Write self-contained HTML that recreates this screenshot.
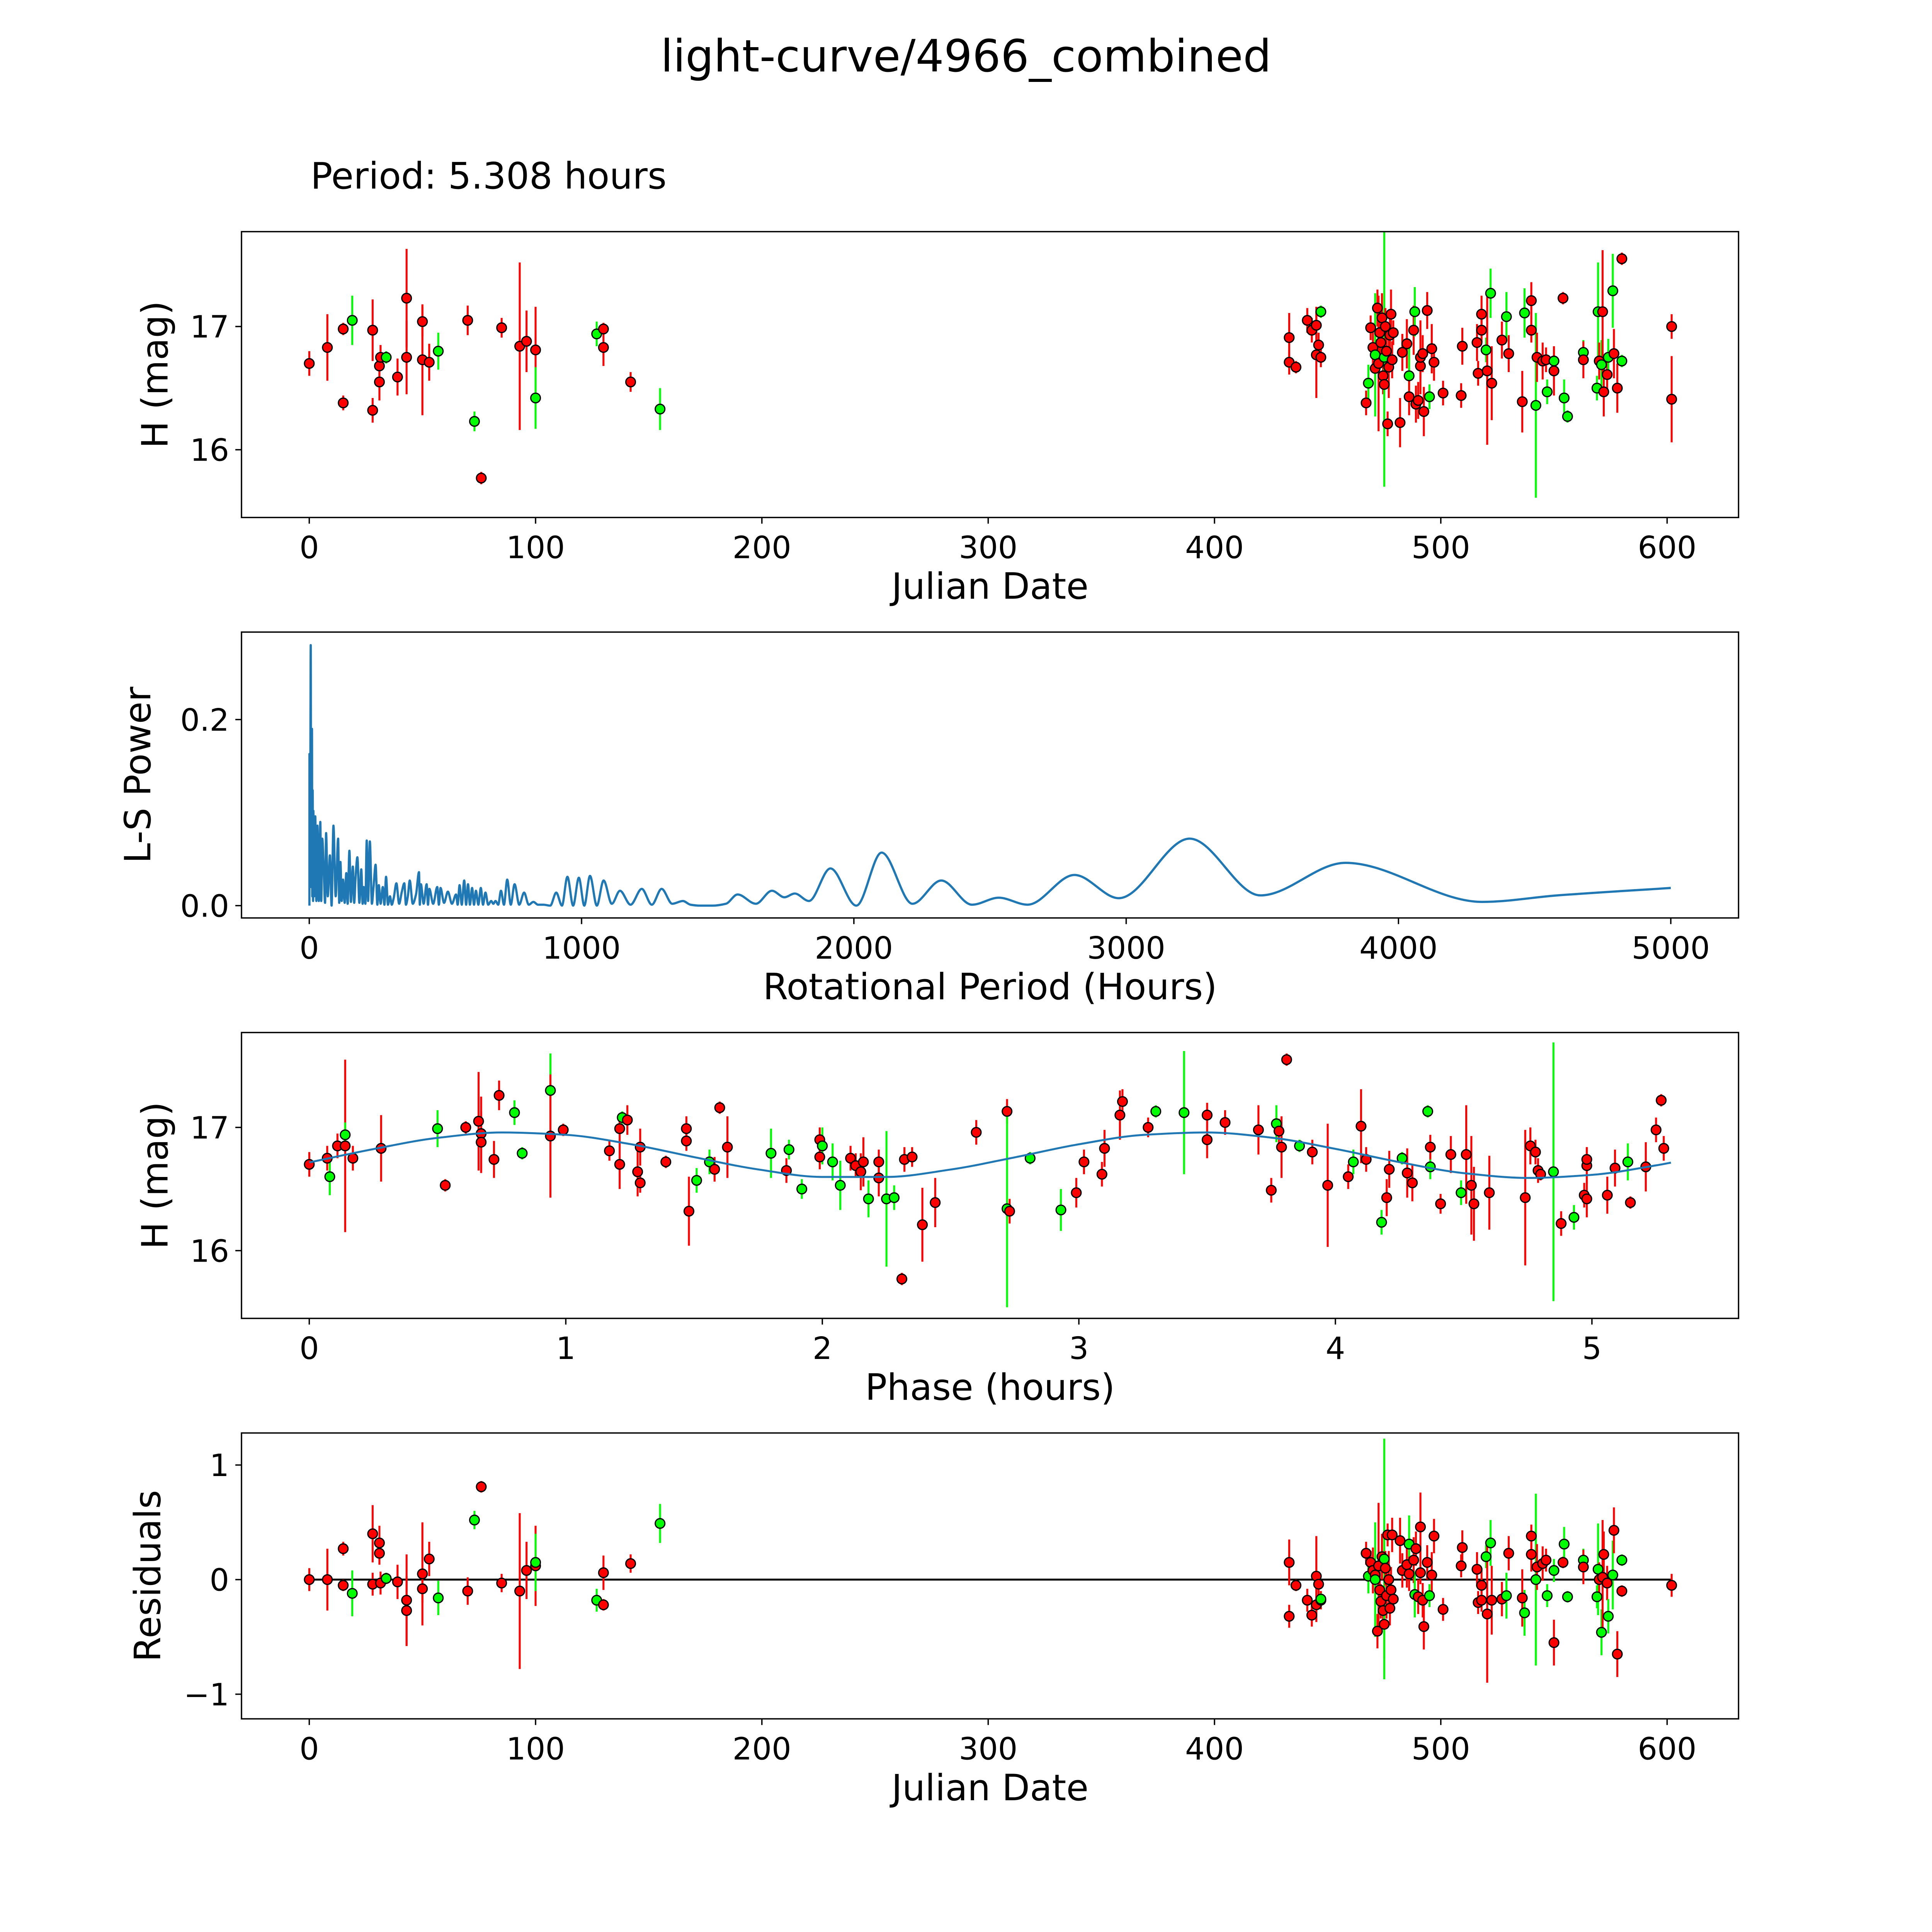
<!DOCTYPE html>
<html><head><meta charset="utf-8"><title>light-curve/4966_combined</title>
<style>
html,body{margin:0;padding:0;background:#fff;width:100%;height:100%;overflow:hidden;}
svg{display:block;width:100vw;height:100vh;font-family:"DejaVu Sans","Liberation Sans",sans-serif;}
</style></head>
<body>
<svg id="fig" xmlns="http://www.w3.org/2000/svg" viewBox="0 0 1568 1568" preserveAspectRatio="none">
<rect x="0" y="0" width="1568" height="1568" fill="#fff"/>
<text x="784" y="58" font-size="36.2" text-anchor="middle">light-curve/4966_combined</text>
<text x="252" y="153" font-size="29.6">Period: 5.308 hours</text>
<g id="layer"></g>
</svg>
<script>
// ---- Panel 1: light curve (Julian date vs H mag) ----
const lcDate=[0,8,15,15,19,28,28,31,31,31.5,34,39,43,43,50,50,53,57,70,73,76,85,93,96,100,100,127,130,130,142,155,
433,433,436,441,443,445,445,446,447,447,467,468,469,470,471,471,472,472.5,473,473.5,474,474.5,475,475,475.5,476,476.5,477,477.5,478,478.5,479,482,483,485,486,486,488,488.5,489,490,491,491,492,492.5,494,495,496,497,
501,509,509.5,516,516.5,518,518,520,520.5,522,522.5,527,529,530,536,537,540,540,542,542.5,545,546.5,547,550,550,554,554.5,556,563,563,569,569.5,570,571,571.5,572,573.5,574,576,576.5,578,580,580,602,602];
const lcMag=[16.70,16.83,16.38,16.98,17.05,16.97,16.32,16.55,16.68,16.75,16.75,16.59,17.23,16.75,17.04,16.73,16.71,16.80,17.05,16.23,15.77,16.99,16.84,16.88,16.81,16.42,16.94,16.98,16.83,16.55,16.33,
16.91,16.71,16.67,17.05,16.97,16.77,17.01,16.85,16.75,17.12,16.38,16.54,16.99,16.83,16.66,16.77,17.15,16.70,16.95,16.87,17.07,16.60,16.53,16.75,17.00,16.80,16.21,16.67,16.93,17.10,16.73,16.95,16.22,16.79,16.86,16.60,16.43,16.97,17.12,16.37,16.40,16.68,16.75,16.78,16.31,17.13,16.43,16.82,16.71,
16.46,16.44,16.84,16.87,16.62,17.10,16.97,16.81,16.64,17.27,16.54,16.89,17.08,16.78,16.39,17.11,17.21,16.97,16.36,16.75,16.72,16.73,16.47,16.72,16.64,17.23,16.42,16.27,16.79,16.73,16.50,17.12,16.72,16.69,17.12,16.47,16.61,16.75,17.29,16.78,16.50,17.55,16.72,17.00,16.41];
const lcErr=[.1,.27,.06,.05,.2,.25,.1,.15,.1,.1,.05,.15,.4,.3,.12,.45,.15,.15,.12,.08,.05,.08,.68,.25,.35,.25,.1,.05,.15,.08,.17,
.2,.1,.05,.1,.1,.35,.15,.1,.08,.05,.1,.15,.1,.2,.15,.5,.15,.55,.2,.15,.2,.15,.3,1.05,.15,.2,.1,.25,.15,.2,.15,.1,.2,.15,.2,.25,.15,.2,.2,.15,.15,.1,.3,.15,.2,.15,.1,.2,.15,
.1,.1,.15,.15,.1,.15,.1,.1,.6,.2,.3,.15,.2,.15,.25,.2,.15,.1,.75,.2,.15,.1,.1,.1,.2,.05,.15,.05,.1,.15,.1,.4,.15,.2,.5,.2,.15,.15,.3,.2,.2,.05,.05,.1,.35];
const lcColor=["r","r","r","r","g","r","r","r","r","r","g","r","r","r","r","r","r","g","r","g","r","r","r","r","r","g","g","r","r","r","g",
"r","r","r","r","r","r","r","r","r","g","r","g","r","r","r","g","r","r","r","r","r","r","r","g","r","r","r","r","r","r","r","r","r","r","r","g","r","r","g","r","r","r","r","r","r","r","g","r","r",
"r","r","r","r","r","r","r","g","r","g","r","r","g","r","r","g","r","r","g","r","r","r","g","g","r","r","g","g","g","r","g","g","r","g","r","r","r","g","g","r","r","r","g","r","r"];

// ---- Panel 2: Lomb-Scargle periodogram ----
const lsPeriod=[0.5,0.7,3,5.4,7,10,11,12.5,14,15,18,22,26,30,35,40.6,44,47.7,53,58,61.8,68,75.8,82,88.8,97,106,110,114.5,119,124,130,136,141,147.4,153,160,165,170,176.7,184,191,196,200,206,211,216,222.5,230,236,243.6,250,255.4,262,270,276,282,289,296.4,303,310,320,330,340,349,355,362,369,380,392,403,406,410,420,431,436,441,455,470,476,482,495,509,524,539,545,552,560,569,576,583,590,598,605,612,621,630,638,647,657,668,676,684,694,704,715,727,740,754,771,789,806,823,840,860,885,907,928,948,969,990,1010,1031,1056,1081,1111,1141,1180,1221,1258,1294,1333,1372,1400,1435,1460,1481,1530,1573,1640,1699,1745,1783,1835,1914,2009,2102,2215,2321,2434,2532,2638,2810,2973,3233,3493,3805,4308,4584,5000];
const lsPower=[0,0.163,0.05,0.28,0.02,0.19,0.01,0.124,0.005,0.102,0.01,0.096,0.005,0.086,0.005,0.09,0.005,0.072,0.04,0.003,0.078,0.01,0.054,0,0.086,0.01,0.072,0.003,0.047,0.005,0.028,0.003,0.035,0.002,0.059,0.004,0.042,0.003,0.03,0.052,0.003,0.039,0.002,0.02,0.002,0.07,0.005,0.069,0.002,0.02,0.044,0.001,0.022,0.002,0.02,0.001,0.031,0.001,0.01,0.001,0.008,0.024,0.002,0.015,0.024,0.001,0.01,0.027,0.002,0.012,0.036,0.001,0.023,0.002,0.023,0.001,0.018,0.002,0.02,0.001,0.019,0.003,0.015,0.002,0.012,0.001,0.022,0.001,0.027,0.001,0.023,0.001,0.019,0.001,0.016,0.001,0.019,0.001,0.014,0.001,0.005,0.002,0.005,0.001,0.016,0.001,0.028,0.001,0.023,0.001,0.014,0.001,0.004,0.001,0.001,0,0.014,0,0.031,0,0.03,0,0.032,0,0.027,0.002,0.016,0.001,0.018,0.001,0.018,0.002,0.005,0.001,0,0,0,0.002,0.012,0.002,0.016,0.009,0.013,0.005,0.040,0,0.057,0.002,0.027,0.001,0.0085,0.001,0.033,0.008,0.072,0.011,0.046,0.004,0.011,0.019];

// ---- Panel 3: phased light curve ----
const phHour=[0,0.07,0.08,0.11,0.14,0.14,0.17,0.28,0.50,0.53,0.61,0.66,0.67,0.67,0.72,0.74,0.80,0.83,0.94,0.94,0.99,1.17,1.21,1.21,1.22,1.24,1.28,1.29,1.29,1.39,1.47,1.47,1.48,1.51,1.56,1.58,1.60,1.63,1.80,1.86,1.87,1.92,1.99,1.99,2.00,2.04,2.07,2.11,2.13,2.15,2.16,2.18,2.22,2.22,2.25,2.28,2.31,2.32,2.35,2.39,2.44,2.60,2.72,2.72,2.73,2.81,2.93,2.99,3.02,3.09,3.10,3.16,3.17,3.27,3.30,3.41,3.50,3.50,3.57,3.70,3.75,3.77,3.78,3.79,3.81,3.86,3.91,3.97,4.05,4.07,4.10,4.12,4.18,4.20,4.21,4.26,4.28,4.30,4.36,4.37,4.37,4.41,4.45,4.49,4.51,4.53,4.54,4.60,4.74,4.76,4.78,4.79,4.80,4.85,4.88,4.93,4.97,4.98,4.98,4.98,5.06,5.09,5.14,5.15,5.21,5.25,5.27,5.28];
const phMag=[16.70,16.75,16.60,16.85,16.85,16.94,16.75,16.83,16.99,16.53,17.0,17.05,16.95,16.88,16.74,17.26,17.12,16.79,17.30,16.93,16.98,16.81,16.99,16.70,17.08,17.06,16.64,16.55,16.84,16.72,16.99,16.89,16.32,16.57,16.72,16.66,17.16,16.84,16.79,16.65,16.82,16.50,16.90,16.76,16.85,16.72,16.53,16.75,16.69,16.64,16.72,16.42,16.72,16.59,16.42,16.43,15.77,16.74,16.76,16.21,16.39,16.96,17.13,16.34,16.32,16.75,16.33,16.47,16.72,16.62,16.83,17.10,17.21,17.00,17.13,17.12,16.90,17.10,17.04,16.98,16.49,17.03,16.97,16.84,17.55,16.85,16.80,16.53,16.60,16.72,17.01,16.74,16.23,16.43,16.66,16.75,16.63,16.55,17.13,16.68,16.84,16.38,16.78,16.47,16.78,16.53,16.38,16.47,16.43,16.85,16.80,16.65,16.62,16.64,16.22,16.27,16.45,16.69,16.74,16.42,16.45,16.67,16.72,16.39,16.68,16.98,17.22,16.83];
const phErr=[.1,.1,.15,.1,.7,.1,.1,.27,.15,.05,.05,.4,.3,.25,.15,.12,.1,.05,.3,.5,.05,.08,.1,.2,.05,.12,.2,.08,.15,.05,.1,.08,.28,.1,.1,.1,.05,.25,.2,.1,.08,.08,.1,.1,.15,.15,.2,.1,.1,.15,.2,.15,.1,.15,.55,.1,.05,.1,.08,.3,.2,.1,.1,.8,.1,.05,.17,.12,.1,.1,.15,.2,.1,.08,.05,.5,.15,.1,.1,.2,.1,.15,.1,.25,.05,.05,.1,.5,.1,.1,.3,.1,.1,.15,.15,.05,.2,.15,.05,.1,.1,.08,.15,.1,.4,.4,.3,.3,.55,.15,.1,.1,.05,1.05,.1,.1,.1,.15,.1,.15,.15,.15,.15,.05,.2,.1,.05,.1];
const phColor=["r","r","g","r","r","g","r","r","g","r","r","r","r","r","r","r","g","g","g","r","r","r","r","r","g","r","r","r","r","r","r","r","r","g","g","r","r","r","g","r","g","g","r","r","g","g","g","r","r","r","r","g","r","r","g","g","r","r","r","r","r","r","r","g","r","g","g","r","r","r","r","r","r","r","g","g","r","r","r","r","r","g","r","r","r","g","r","r","r","g","r","r","g","r","r","g","r","r","g","g","r","r","r","g","r","r","r","r","r","r","r","r","r","g","r","g","r","r","r","r","r","r","g","r","r","r","r","r"];
const modelPhase=[0,0.25,0.5,0.75,1.0,1.25,1.5,1.75,2.0,2.25,2.5,2.75,3.0,3.25,3.5,3.75,4.0,4.25,4.5,4.75,5.0,5.25,5.308];
const modelMag=[16.716,16.824,16.915,16.959,16.940,16.865,16.759,16.659,16.598,16.598,16.658,16.757,16.863,16.939,16.959,16.917,16.826,16.718,16.629,16.590,16.615,16.692,16.714];

// ---- Panel 4: residuals ----
const rsDate=[0,8,15,15,19,28,28,31,31,31.5,34,39,43,43,50,50,53,57,70,73,76,85,93,96,100,100,127,130,130,142,155,
433,433,436,441,443,445,445,446,447,447,467,468,469,470,471,471,472,472.5,473,473.5,474,474.5,475,475,475.5,476,476.5,477,477.5,478,478.5,479,482,483,485,486,486,488,488.5,489,490,491,491,492,492.5,494,495,496,497,
501,509,509.5,516,516.5,518,518,520,520.5,522,522.5,527,529,530,536,537,540,540,542,542.5,545,546.5,547,550,550,554,554.5,556,563,563,569,569.5,570,571,571.5,572,573.5,574,576,576.5,578,580,580,602,602];
const rsVal=[0,0,.27,-.05,-.12,.4,-.04,.32,.23,-.03,.01,-.02,-.18,-.27,-.08,.05,.18,-.16,-.1,.52,.81,-.03,-.1,.08,.12,.15,-.18,-.22,.06,.14,.49,
.15,-.32,-.05,-.18,-.31,.03,-.22,-.04,-.18,-.17,.23,.03,.15,.08,.04,0,-.45,.12,-.09,-.19,.2,-.27,-.39,.18,.1,-.14,.39,0,-.25,-.09,.39,-.17,.34,.08,.13,.31,.05,.17,-.13,.27,-.15,.06,.46,-.18,-.41,.15,-.14,.04,
.38,-.26,.12,.28,.09,-.2,-.05,-.18,.2,-.3,.32,-.18,-.17,-.14,.23,-.16,-.29,.22,.38,0,.11,.14,.17,-.14,.08,-.55,.15,.31,-.15,.17,.11,-.15,.09,0,-.46,.02,.22,-.03,-.32,.04,.43,-.65,-.1,.17,-.05];
const rsErr=lcErr.slice();
const rsColor=lcColor.slice();

const NS="http://www.w3.org/2000/svg";
const layer=document.getElementById('layer');
function mk(tag,attrs,parent){const e=document.createElementNS(NS,tag);for(const k in attrs)e.setAttribute(k,attrs[k]);(parent||layer).appendChild(e);return e;}
const COL={r:"#ff0000",g:"#00ff00"};

const L=196,R=1411;
const P=[{top:188,bot:420},{top:513,bot:745},{top:838,bot:1070},{top:1163,bot:1395}];
const x1=d=>251+d*1.8367, y1=m=>265-(m-17)*100;
const x2=p=>251+p*0.221, y2=v=>735-v*755;
const x3=h=>251+h*208.2, y3=m=>915-(m-17)*100;
const x4=x1, y4=r=>1282-r*93;

function axes(i,name,xt,xs,yt,ys,xlabel,ylabel,ylx){
  const g=mk('g',{});
  
  
  const clipId='clip'+i;
  const cp=mk('clipPath',{id:clipId},g);
  mk('rect',{x:L,y:P[i].top,width:R-L,height:P[i].bot-P[i].top},cp);
  xt.forEach(t=>{const x=xs(t);
    const tk=mk('line',{x1:x,x2:x,y1:P[i].bot,y2:P[i].bot+5,stroke:'#000','stroke-width':1.1},g);
    
    
    const tx=mk('text',{x:x,y:P[i].bot+33,'font-size':25,'text-anchor':'middle'},g);
    tx.textContent=t;
    
    
  });
  yt.forEach(t=>{const y=ys(t[0]);
    const tk=mk('line',{x1:L-5,x2:L,y1:y,y2:y,stroke:'#000','stroke-width':1.1},g);
    
    
    const tx=mk('text',{x:L-10,y:y+9,'font-size':25,'text-anchor':'end'},g);
    tx.textContent=t[1];
    
    
  });
  const xl=mk('text',{x:(L+R)/2,y:P[i].bot+66,'font-size':29.4,'text-anchor':'middle'},g);
  xl.textContent=xlabel;
  
  
  const cy=(P[i].top+P[i].bot)/2;
  const yl=mk('text',{x:ylx,y:cy,'font-size':29.4,'text-anchor':'middle',transform:`rotate(-90 ${ylx} ${cy})`},g);
  yl.textContent=ylabel;
  
  
  const plot=mk('g',{'clip-path':`url(#${clipId})`},g);
  
  
  return {g,plot,frame:()=>{const f=mk('rect',{x:L,y:P[i].top,width:R-L,height:P[i].bot-P[i].top,fill:'none',stroke:'#000','stroke-width':1.1},g);
    
    }};
}

function errorPoints(ax,xs,ys,err,col,xf,yf,name){
  for(let k=0;k<xs.length;k++){
    const x=xf(xs[k]);
    const l=mk('line',{x1:x,x2:x,y1:yf(ys[k]-err[k]),y2:yf(ys[k]+err[k]),stroke:COL[col[k]],'stroke-width':1.6},ax.plot);
    
    
  }
  for(let k=0;k<xs.length;k++){
    const c=mk('circle',{cx:xf(xs[k]),cy:yf(ys[k]),r:3.9,fill:COL[col[k]],stroke:'#000','stroke-width':1},ax.plot);
    
    
  }
}

function monotonePath(px,py){
  const n=px.length;if(n<2)return '';
  const h=[],s=[];
  for(let i=0;i<n-1;i++){h.push(px[i+1]-px[i]);s.push(h[i]?(py[i+1]-py[i])/h[i]:0);}
  const t=new Array(n);
  t[0]=s[0];t[n-1]=s[n-2];
  for(let i=1;i<n-1;i++){
    if(s[i-1]*s[i]<=0)t[i]=0;
    else{const h0=h[i-1],h1=h[i];t[i]=3*(h0+h1)/((2*h1+h0)/s[i-1]+(h1+2*h0)/s[i]);}
  }
  let d=`M${px[0].toFixed(2)},${py[0].toFixed(2)}`;
  for(let i=0;i<n-1;i++){
    const a=h[i]/3;
    d+=`C${(px[i]+a).toFixed(2)},${(py[i]+t[i]*a).toFixed(2)} ${(px[i+1]-a).toFixed(2)},${(py[i+1]-t[i+1]*a).toFixed(2)} ${px[i+1].toFixed(2)},${py[i+1].toFixed(2)}`;
  }
  return d;
}

const a1=axes(0,'light-curve-panel',[0,100,200,300,400,500,600],x1,[[16,'16'],[17,'17']],y1,'Julian Date','H (mag)',136);
errorPoints(a1,lcDate,lcMag,lcErr,lcColor,x1,y1,'observation');
a1.frame();

const a2=axes(1,'periodogram-panel',[0,1000,2000,3000,4000,5000],x2,[[0,'0.0'],[0.2,'0.2']],y2,'Rotational Period (Hours)','L-S Power',122);
const ls=mk('path',{d:monotonePath(lsPeriod.map(x2),lsPower.map(y2)),fill:'none',stroke:'#1f77b4','stroke-width':1.8,'stroke-linejoin':'round'},a2.plot);


a2.frame();

const a3=axes(2,'phase-panel',[0,1,2,3,4,5],x3,[[16,'16'],[17,'17']],y3,'Phase (hours)','H (mag)',136);
errorPoints(a3,phHour,phMag,phErr,phColor,x3,y3,'phased-observation');
const mc=mk('path',{d:monotonePath(modelPhase.map(x3),modelMag.map(y3)),fill:'none',stroke:'#1f77b4','stroke-width':1.6},a3.plot);


a3.frame();

const a4=axes(3,'residuals-panel',[0,100,200,300,400,500,600],x4,[[-1,'\u22121'],[0,'0'],[1,'1']],y4,'Julian Date','Residuals',130);
const zl=mk('line',{x1:x4(0),x2:x4(602),y1:y4(0),y2:y4(0),stroke:'#000','stroke-width':1.6},a4.plot);


errorPoints(a4,rsDate,rsVal,rsErr,rsColor,x4,y4,'residual');
a4.frame();
</script>
</body></html>
